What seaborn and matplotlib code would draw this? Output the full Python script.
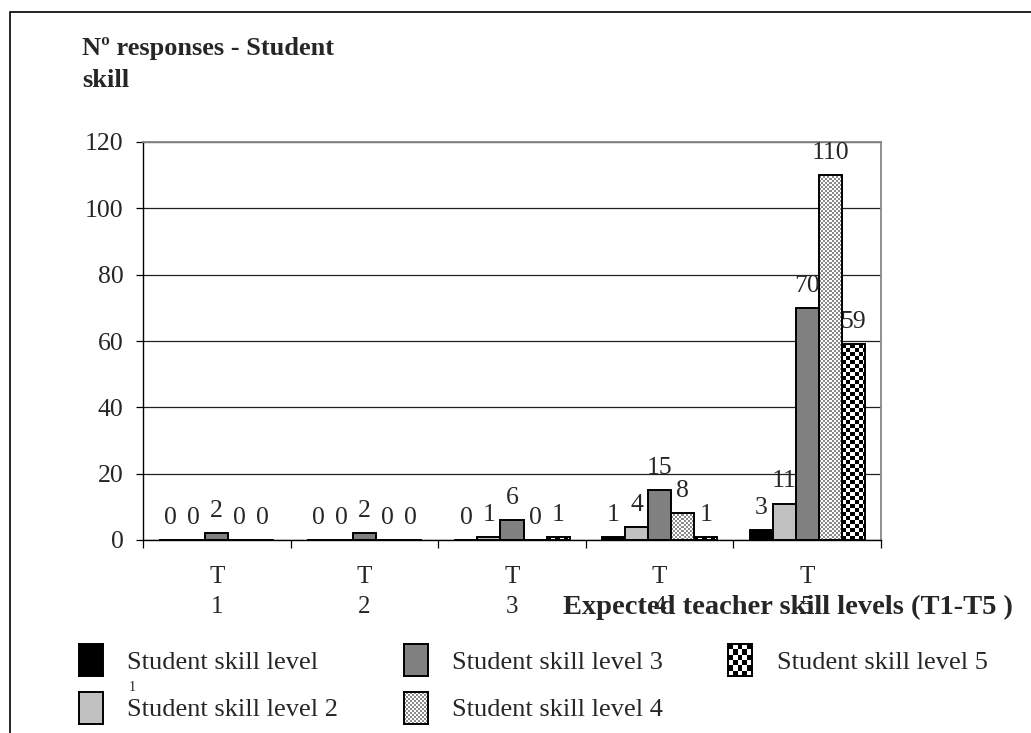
import numpy as np
import pandas as pd
import matplotlib
matplotlib.use('Agg')
import matplotlib.pyplot as plt
import seaborn as sns
from matplotlib.colors import ListedColormap
from matplotlib.patches import Rectangle

# data
teachers = ['T1', 'T2', 'T3', 'T4', 'T5']
tick_labels = ['T\n1', 'T\n2', 'T\n3', 'T\n4', 'T\n5']
levels = ['Student skill level 1', 'Student skill level 2', 'Student skill level 3',
          'Student skill level 4', 'Student skill level 5']
level1 = [0, 0, 0, 1, 3]
level2 = [0, 0, 1, 4, 11]
level3 = [2, 2, 6, 15, 70]
level4 = [0, 0, 0, 8, 110]
level5 = [0, 0, 1, 1, 59]
series = [level1, level2, level3, level4, level5]

rows = []
for lev, vals in zip(levels, series):
    for t, v in zip(teachers, vals):
        rows.append({'teacher': t, 'level': lev, 'responses': v})
df = pd.DataFrame(rows)

sns.set_theme(style='white')
plt.rcParams['font.family'] = ['Liberation Serif', 'DejaVu Serif']

W, H = 1031, 733
FS = 18
fig = plt.figure(figsize=(W / 100, H / 100), dpi=100)
ax_l, ax_t, ax_w, ax_h = 143, 142, 738, 398
ax = fig.add_axes([ax_l / W, 1 - (ax_t + ax_h) / H, ax_w / W, ax_h / H])

colors = ['black', '#c0c0c0', '#808080', 'white', 'white']
sns.barplot(data=df, x='teacher', y='responses', hue='level', order=teachers,
            hue_order=levels, palette=colors, saturation=1, edgecolor='black',
            linewidth=1.4, width=0.78, errorbar=None, legend=False, ax=ax)

ax.set_xlim(-0.5, 4.5)
ax.set_ylim(0, 120)
PX_X = ax_w / 5.0
PX_Y = ax_h / 120.0


def checker(nx, ny):
    return np.indices((ny, nx)).sum(axis=0) % 2


def texture(bar, cell, cols):
    x0, y0 = bar.get_x(), bar.get_y()
    w, h = bar.get_width(), bar.get_height()
    bar.set_facecolor('none')
    if h <= 0:
        return
    dx, dy = cell / PX_X, cell / PX_Y
    nx, ny = int(np.ceil(w / dx)), int(np.ceil(h / dy))
    im = ax.imshow(checker(nx, ny), extent=(x0, x0 + nx * dx, y0, y0 + ny * dy),
                   origin='lower', cmap=ListedColormap(cols), vmin=0, vmax=1,
                   interpolation='nearest', aspect='auto', zorder=bar.get_zorder() - 0.01)
    im.set_clip_path(bar)


fine = ['#ffffff', '#8a8a8a']
coarse = ['black', 'white']
for bar in ax.containers[3]:
    texture(bar, 2, fine)
for bar in ax.containers[4]:
    texture(bar, 4, coarse)
ax.set_xlim(-0.5, 4.5)
ax.set_ylim(0, 120)

for cont, vals in zip(ax.containers, series):
    ax.bar_label(cont, labels=[str(v) for v in vals], padding=8, fontsize=FS + 0.5)

# axes styling
ax.set_axisbelow(True)
ax.yaxis.grid(True, color='#202020', linewidth=0.9)
ax.xaxis.grid(False)
ax.set_yticks(range(0, 121, 20))
ax.tick_params(axis='y', direction='out', length=5, width=0.9, color='black',
               pad=9, labelsize=FS + 0.5, left=True)
ax.set_xticks(range(5))
ax.set_xticklabels(tick_labels, fontsize=FS, linespacing=1.45)
ax.set_xticks(np.arange(-0.5, 5, 1), minor=True)
ax.tick_params(axis='x', which='major', length=0, pad=19)
ax.tick_params(axis='x', which='minor', direction='out', length=6, width=0.9,
               color='black', bottom=True)
for side in ['left', 'bottom']:
    ax.spines[side].set_color('black')
    ax.spines[side].set_linewidth(1.0)
for side in ['top', 'right']:
    ax.spines[side].set_color('#888888')
    ax.spines[side].set_linewidth(1.3)

ax.set_ylabel('')
ax.set_xlabel('Expected teacher skill levels (T1-T5 )', fontsize=20.5,
              fontweight='bold', ha='left', va='baseline')
ax.xaxis.set_label_coords((563 - ax_l) / ax_w, (ax_t + ax_h - 614) / ax_h)

# title
fig.text(82 / W, 1 - 55 / H, 'Nº responses - Student', fontsize=19,
         fontweight='bold', va='baseline')
fig.text(82 / W, 1 - 87 / H, 'skill', fontsize=19, fontweight='bold', va='baseline')

# legend, drawn by hand
def swatch(x, y, w, h, face, cell=None, cols=None):
    sax = fig.add_axes([x / W, 1 - (y + h) / H, w / W, h / H])
    sax.set_xticks([])
    sax.set_yticks([])
    if cell:
        sax.imshow(checker(round(w / cell), round(h / cell)), cmap=ListedColormap(cols),
                   vmin=0, vmax=1, interpolation='nearest', aspect='auto')
    else:
        sax.set_facecolor(face)
    for s in sax.spines.values():
        s.set_visible(True)
        s.set_color('black')
        s.set_linewidth(1.4)


leg = [
    (79, 644, 127, 669, 'Student skill level', dict(face='black')),
    (79, 692, 127, 716, levels[1], dict(face='#c0c0c0')),
    (404, 644, 452, 669, levels[2], dict(face='#808080')),
    (404, 692, 452, 716, levels[3], dict(face=None, cell=2, cols=fine)),
    (728, 644, 777, 669, levels[4], dict(face=None, cell=5, cols=coarse)),
]
for sx, sy, tx, ty, lab, kw in leg:
    swatch(sx, sy, 24, 32, **kw)
    fig.text(tx / W, 1 - ty / H, lab, fontsize=19, va='baseline')
fig.text(129 / W, 1 - 691 / H, '1', fontsize=10, va='baseline')

# outer frame (runs off the right and bottom)
fig.patches.append(Rectangle((10 / W, -0.1), 2, 1.1 - 12 / H, transform=fig.transFigure,
                             fill=False, edgecolor='black', linewidth=1.2))

fig.savefig('out.png', dpi=100)
